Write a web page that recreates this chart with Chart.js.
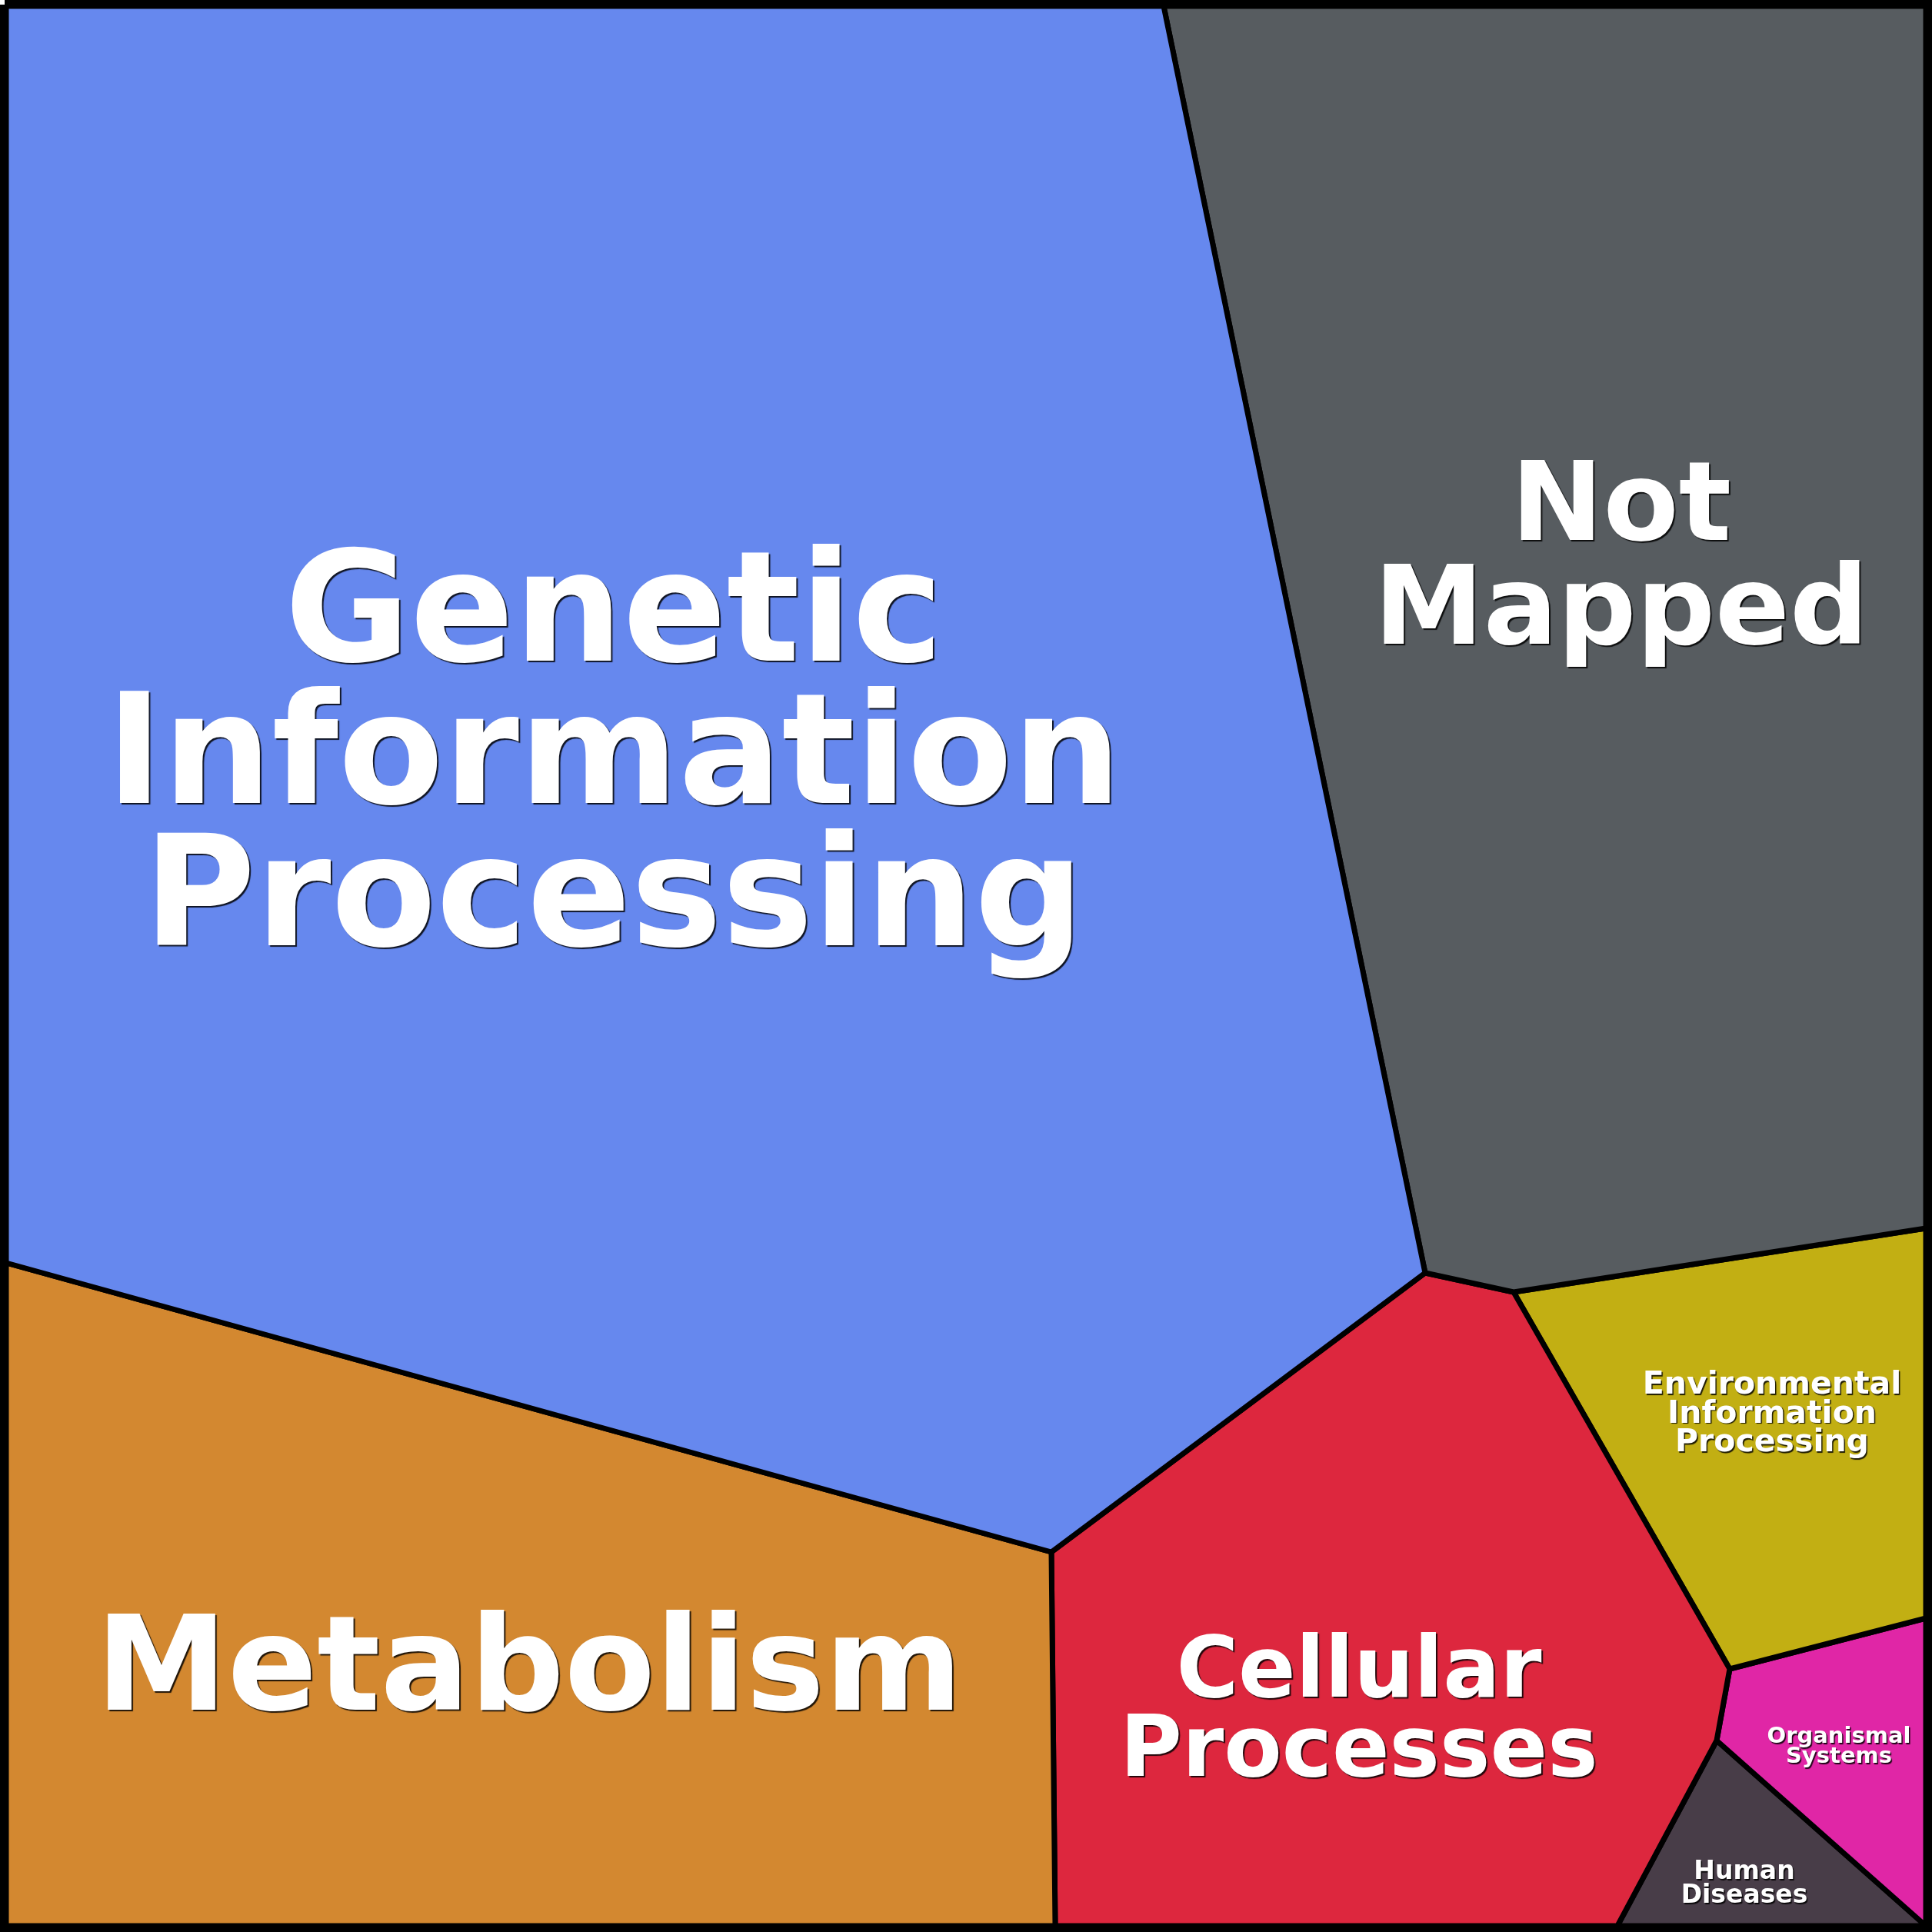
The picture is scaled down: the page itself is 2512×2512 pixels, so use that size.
<!DOCTYPE html>
<html>
<head>
<meta charset="utf-8">
<script src="https://cdn.jsdelivr.net/npm/chart.js@4/dist/chart.umd.min.js"></script>
<style>
  body { margin: 0; background: #ffffff; }
  #wrap { width: 2512px; height: 2512px; }
</style>
</head>
<body>
<div id="wrap"><canvas id="voronoiChart" width="2512" height="2512"></canvas></div>
<script>
// categories of the treemap
const categories = ['Genetic Information Processing', 'Not Mapped', 'Metabolism', 'Cellular Processes',
  'Environmental Information Processing', 'Organismal Systems', 'Human Diseases'];

// cell outlines (chart units, y grows downwards)
const geneticCell = [[8,8],[1513,8],[1853,1655],[1367,2018],[8,1642]];
const notMappedCell = [[1513,8],[2504,8],[2504,1597],[1968,1680],[1853,1655]];
const metabolismCell = [[8,1642],[1367,2018],[1372,2504],[8,2504]];
const cellularCell = [[1367,2018],[1853,1655],[1968,1680],[2249,2170],[2232,2263],[2103,2504],[1372,2504]];
const environmentalCell = [[1968,1680],[2504,1597],[2504,2104],[2249,2170]];
const organismalCell = [[2249,2170],[2504,2104],[2504,2504],[2232,2263]];
const humanCell = [[2232,2263],[2504,2504],[2103,2504]];

const cells = [geneticCell, notMappedCell, metabolismCell, cellularCell, environmentalCell, organismalCell, humanCell];
const colors = ['#6688ee', '#575c60', '#d38830', '#dd273e', '#c2af13', '#e026a6', '#483d48'];

// label text split in lines
const labelLines = [
  ['Genetic', 'Information', 'Processing'],
  ['Not', 'Mapped'],
  ['Metabolism'],
  ['Cellular', 'Processes'],
  ['Environmental', 'Information', 'Processing'],
  ['Organismal', 'Systems'],
  ['Human', 'Diseases']
];

// where each label sits: x centre, first baseline, line step, font px
const labelLayout = [
  {x: 798, y: 859, step: 185, size: 199},
  {x: 2108, y: 702, step: 135, size: 143},
  {x: 688, y: 2223, step: 0, size: 172},
  {x: 1767, y: 2206, step: 103, size: 110},
  {x: 2304, y: 1812, step: 37.5, size: 41},
  {x: 2391, y: 2266, step: 26, size: 29},
  {x: 2268, y: 2443, step: 31, size: 33}
];

const frame = [[6,6],[2506,6],[2506,2506],[6,2506]];

function toPoints(poly){
  let pts = poly.map(p => ({x: p[0], y: p[1]}));
  pts.push({x: poly[0][0], y: poly[0][1]});
  return pts;
}

let datasets = cells.map((c, i) => ({
  label: categories[i],
  data: toPoints(c),
  showLine: true,
  fill: 'shape',
  backgroundColor: colors[i],
  borderColor: '#000000',
  borderWidth: 7,
  borderJoinStyle: 'round',
  pointRadius: 0,
  tension: 0
}));

datasets.push({
  label: 'frame',
  data: toPoints(frame),
  showLine: true,
  fill: false,
  borderColor: '#000000',
  borderWidth: 12,
  borderJoinStyle: 'miter',
  pointRadius: 0,
  tension: 0
});

const labelPlugin = {
  id: 'cellLabels',
  afterDatasetsDraw(chart){
    let ctx = chart.ctx;
    let xs = chart.scales.x, ys = chart.scales.y;
    ctx.save();
    ctx.textAlign = 'center';
    ctx.textBaseline = 'alphabetic';
    labelLines.forEach((lines, i) => {
      let lay = labelLayout[i];
      ctx.font = `bold ${lay.size}px "DejaVu Sans"`;
      ctx.fillStyle = '#ffffff';
      ctx.shadowColor = 'rgba(0,0,0,0.85)';
      ctx.shadowOffsetX = lay.size > 60 ? 2 : 1.5;
      ctx.shadowOffsetY = lay.size > 60 ? 2 : 1.5;
      ctx.shadowBlur = 1;
      lines.forEach((t, j) => {
        ctx.fillText(t, xs.getPixelForValue(lay.x), ys.getPixelForValue(lay.y + j * lay.step));
      });
    });
    ctx.restore();
  }
};

let ctx = document.getElementById('voronoiChart').getContext('2d');
let voronoiChart = new Chart(ctx, {
  type: 'scatter',
  data: { datasets: datasets },
  options: {
    responsive: false,
    animation: false,
    layout: { padding: 0 },
    scales: {
      x: { type: 'linear', min: 0, max: 2512, display: false },
      y: { type: 'linear', min: 0, max: 2512, reverse: true, display: false }
    },
    plugins: {
      legend: { display: false },
      tooltip: { enabled: false }
    }
  },
  plugins: [labelPlugin]
});
</script>
</body>
</html>
